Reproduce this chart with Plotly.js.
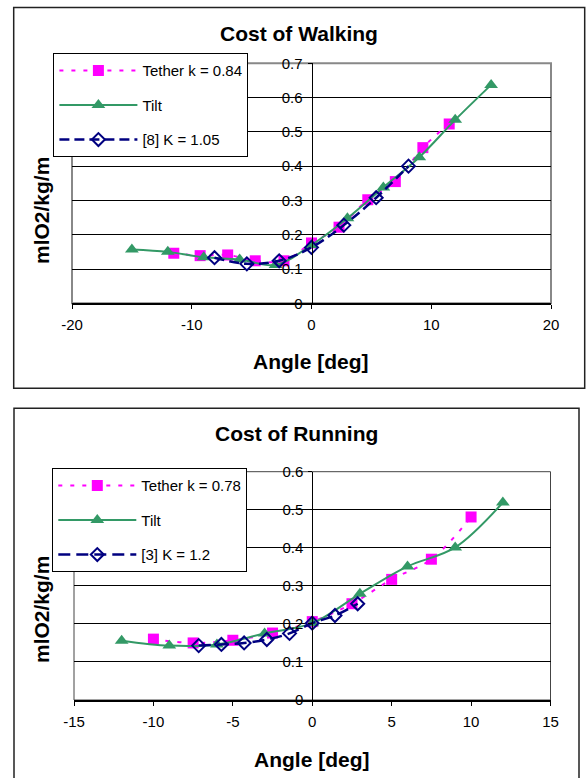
<!DOCTYPE html>
<html><head><meta charset="utf-8">
<script src="https://cdn.plot.ly/plotly-3.0.1.min.js"></script>
<style>html,body{margin:0;padding:0;background:#fff}</style>
</head><body><div id="chart" style="width:586px;height:778px"></div>
<script>
// ---- Cost of Walking ----
const walkTetherAngle = [-11.5, -9.3, -7.0, -4.7, -2.3, 0, 2.3, 4.7, 7.0, 9.3, 11.5];
const walkTetherCost  = [0.146, 0.139, 0.141, 0.124, 0.124, 0.176, 0.222, 0.302, 0.355, 0.454, 0.523];
const walkTiltAngle   = [-15, -12, -9, -6, -3, 0, 3, 6, 9, 12, 15];
const walkTiltCost    = [0.157, 0.150, 0.134, 0.128, 0.112, 0.170, 0.248, 0.338, 0.426, 0.535, 0.637];
const walkRefAngle    = [-8.1, -5.4, -2.7, 0, 2.7, 5.4, 8.1];
const walkRefCost     = [0.133, 0.115, 0.124, 0.163, 0.228, 0.308, 0.400];
// ---- Cost of Running ----
const runTetherAngle  = [-10, -7.5, -5, -2.5, 0, 2.5, 5, 7.5, 10];
const runTetherCost   = [0.160, 0.150, 0.157, 0.176, 0.206, 0.253, 0.317, 0.370, 0.481];
const runTiltAngle    = [-12, -9, -6, -3, 0, 3, 6, 9, 12];
const runTiltCost     = [0.156, 0.143, 0.146, 0.175, 0.202, 0.279, 0.351, 0.401, 0.519];
const runRefAngle     = [-7.15, -5.72, -4.29, -2.86, -1.43, 0, 1.43, 2.86];
const runRefCost      = [0.143, 0.146, 0.150, 0.159, 0.175, 0.202, 0.222, 0.253];
// tick labels
const walkXTicks = [-20, -10, 0, 10, 20];
const walkXTickText = ['-20', '-10', '0', '10', '20'];
const runXTicks = [-15, -10, -5, 0, 5, 10, 15];
const runXTickText = ['-15', '-10', '-5', '0', '5', '10', '15'];
// labels
const titles = ['Cost of Walking', 'Cost of Running'];
const xTitle = 'Angle [deg]';
const yTitle = 'mlO2/kg/m';
const walkNames = ['Tether k = 0.84', 'Tilt', '[8] K = 1.05'];
const runNames  = ['Tether k = 0.78', 'Tilt', '[3] K = 1.2'];

const W = 586, H = 778;
const px = v => v / W;
const py = v => 1 - v / H;

const PINK = '#FF00FF', GREEN = '#339966', NAVY = '#000080';
const FONT = 'Arial, "Liberation Sans", sans-serif';

function series(xs, ys, name, kind, xa, ya, leg, grp, dashRef) {
  const t = {x: xs, y: ys, name: name, type: 'scatter', mode: 'lines+markers',
    xaxis: xa, yaxis: ya, legend: leg, legendgroup: grp, cliponaxis: false};
  if (kind === 'tether') {
    t.line = {color: PINK, width: 2, dash: '4px,8px', shape: 'spline', smoothing: 1};
    t.marker = {symbol: 'square', size: 11, color: PINK};
  } else if (kind === 'tilt') {
    t.line = {color: GREEN, width: 2, shape: 'spline', smoothing: 1};
    t.marker = {symbol: 'triangle-up', size: 12, color: GREEN};
  } else {
    t.line = {color: NAVY, width: 2.5, dash: dashRef, shape: 'spline', smoothing: 1};
    t.marker = {symbol: 'diamond-open', size: 10, color: NAVY, line: {width: 2, color: NAVY}};
  }
  return t;
}

const data = [
  series(walkTetherAngle, walkTetherCost, walkNames[0], 'tether', 'x', 'y', 'legend', 'a1'),
  series(walkTiltAngle, walkTiltCost, walkNames[1], 'tilt', 'x', 'y', 'legend', 'a2'),
  series(walkRefAngle, walkRefCost, walkNames[2], 'ref', 'x', 'y', 'legend', 'a3', '10px,5px'),
  series(runTetherAngle, runTetherCost, runNames[0], 'tether', 'x2', 'y2', 'legend2', 'b1'),
  series(runTiltAngle, runTiltCost, runNames[1], 'tilt', 'x2', 'y2', 'legend2', 'b2'),
  series(runRefAngle, runRefCost, runNames[2], 'ref', 'x2', 'y2', 'legend2', 'b3', '12px,6px')
];

const tickFont = {family: FONT, size: 15, color: '#000'};
function xAxis(domain, range, tv, tt, anchor) {
  return {domain: domain, range: range, tickmode: 'array', tickvals: tv, ticktext: tt, anchor: anchor,
    showgrid: false, zeroline: false, showline: true, linecolor: '#000', linewidth: 1.5,
    ticks: 'outside', ticklen: 4, tickcolor: '#000', tickwidth: 1,
    ticklabelstandoff: 3, tickfont: tickFont, fixedrange: true};
}
function yAxis(domain, range, pos) {
  return {domain: domain, range: range, dtick: 0.1, anchor: 'free', position: pos,
    showgrid: true, gridcolor: '#000', gridwidth: 1, zeroline: false,
    showline: true, linecolor: '#000', linewidth: 1,
    ticks: 'outside', ticklen: 4, tickcolor: '#000',
    ticklabelstandoff: 2, tickfont: tickFont, fixedrange: true};
}

const topX = [px(72), px(551)], topY = [py(303.3), py(63.3)];
const botX = [px(74), px(550.5)], botY = [py(700), py(471.7)];

const bold = (s) => ({family: FONT, size: s, color: '#000', weight: 'bold'});
function note(text, x, y, size, angle) {
  return {text: text, x: px(x), y: py(y), xref: 'paper', yref: 'paper', showarrow: false,
    xanchor: 'center', yanchor: 'middle', textangle: angle || 0, font: bold(size)};
}

const legendBase = {bgcolor: '#fff', bordercolor: '#000', borderwidth: 1,
  font: {family: FONT, size: 15, color: '#000'}, traceorder: 'grouped',
  tracegroupgap: 12, itemwidth: 78, xanchor: 'left', yanchor: 'top'};

const layout = {
  width: W, height: H, margin: {l: 0, r: 0, t: 0, b: 0},
  paper_bgcolor: '#fff', plot_bgcolor: '#fff',
  showlegend: true,
  xaxis: xAxis(topX, [-20, 20], walkXTicks, walkXTickText, 'y'),
  yaxis: yAxis(topY, [0, 0.7], (px(72) + px(551)) / 2),
  xaxis2: xAxis(botX, [-15, 15], runXTicks, runXTickText, 'y2'),
  yaxis2: yAxis(botY, [0, 0.6], (px(74) + px(550.5)) / 2),
  legend: Object.assign({}, legendBase, {x: px(53.4), y: py(53.3)}),
  legend2: Object.assign({}, legendBase, {x: px(52.3), y: py(468.3)}),
  annotations: [
    note(titles[0], 299, 34, 21),
    note(titles[1], 296, 434, 21),
    note(xTitle, 311, 361, 21),
    note(xTitle, 312, 759, 21),
    note(yTitle, 41, 211, 21, -90),
    note(yTitle, 41, 610, 21, -90)
  ],
  shapes: [
    {type: 'rect', xref: 'paper', yref: 'paper', x0: px(13.7), x1: px(584.7), y0: py(388.3), y1: py(7.5),
      line: {color: '#222', width: 1.5}, layer: 'below'},
    {type: 'rect', xref: 'paper', yref: 'paper', x0: px(14), x1: px(579), y0: -0.01, y1: py(408.3),
      line: {color: '#222', width: 1.5}, layer: 'below'},
    {type: 'rect', xref: 'paper', yref: 'paper', x0: topX[0], x1: topX[1], y0: topY[0], y1: topY[1],
      line: {color: '#888', width: 2}, layer: 'below'},
    {type: 'rect', xref: 'paper', yref: 'paper', x0: botX[0], x1: botX[1], y0: botY[0], y1: botY[1],
      line: {color: '#444', width: 1}, layer: 'below'}
  ]
};

Plotly.newPlot('chart', data, layout, {staticPlot: true, displayModeBar: false});
</script>
</body></html>
